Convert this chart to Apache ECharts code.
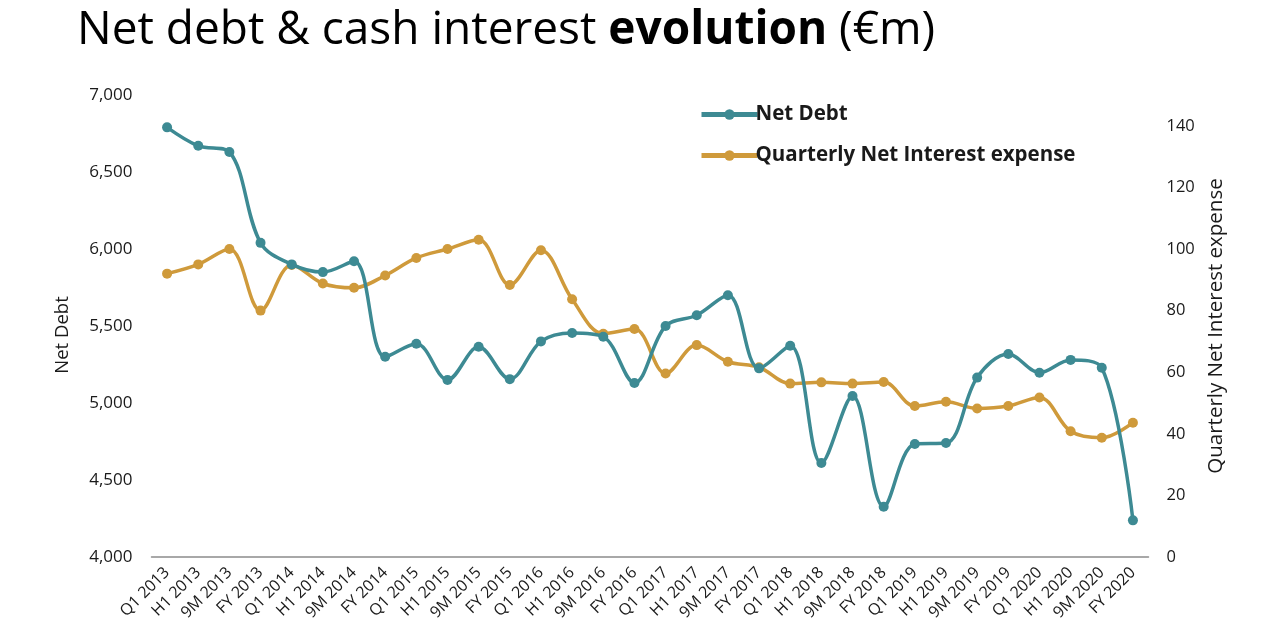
<!DOCTYPE html>
<html>
<head>
<meta charset="utf-8">
<script src="https://cdn.jsdelivr.net/npm/echarts@6/dist/echarts.min.js"></script>
<style>
  html, body { margin: 0; padding: 0; background: #ffffff; }
  #chart { width: 1264px; height: 618px; }
  #bar { position: absolute; left: 9px; top: 20px; width: 2px; height: 558px; background: #000; }
</style>
</head>
<body>
<div id="bar"></div>
<div id="chart"></div>
<script>
// Reporting periods
const periods = [
  'Q1 2013', 'H1 2013', '9M 2013', 'FY 2013',
  'Q1 2014', 'H1 2014', '9M 2014', 'FY 2014',
  'Q1 2015', 'H1 2015', '9M 2015', 'FY 2015',
  'Q1 2016', 'H1 2016', '9M 2016', 'FY 2016',
  'Q1 2017', 'H1 2017', '9M 2017', 'FY 2017',
  'Q1 2018', 'H1 2018', '9M 2018', 'FY 2018',
  'Q1 2019', 'H1 2019', '9M 2019', 'FY 2019',
  'Q1 2020', 'H1 2020', '9M 2020', 'FY 2020'
];

// Net debt (€m), left axis
const netDebt = [
  6790, 6670, 6630, 6040,
  5900, 5850, 5920, 5300,
  5385, 5150, 5365, 5155,
  5400, 5455, 5430, 5130,
  5500, 5570, 5700, 5225,
  5372, 4610, 5045, 4327,
  4734, 4740, 5165, 5318,
  5197, 5280, 5229, 4238
];

// Quarterly net interest expense (€m), right axis
const interestExpense = [
  92, 95, 100, 80,
  94.8, 88.8, 87.4, 91.4,
  97.1, 100, 103, 88.3,
  99.6, 83.7, 72.5, 74,
  59.6, 68.8, 63.4, 61.6,
  56.3, 56.7, 56.3, 56.8,
  49, 50.4, 48.2, 49,
  51.8, 40.8, 38.7, 43.6
];

const teal = '#3d8a93';
const gold = '#cf9a3b';
const font = 'Open Sans';

const chart = echarts.init(document.getElementById('chart'), null, { renderer: 'canvas' });

chart.setOption({
  backgroundColor: '#ffffff',
  animation: false,
  textStyle: { fontFamily: font },
  title: {
    left: 72,
    top: 3,
    text: '{n|Net debt & cash interest }{b|evolution}{n| (€m)}',
    textStyle: {
      rich: {
        n: { fontFamily: font, fontSize: 46, color: '#000', fontWeight: 'normal' },
        b: { fontFamily: font, fontSize: 46, color: '#000', fontWeight: 'bold' }
      }
    }
  },
  legend: {
    orient: 'vertical',
    left: 694,
    top: 99,
    itemWidth: 56,
    itemHeight: 13,
    itemGap: 20,
    lineStyle: { width: 5 },
    textStyle: { fontFamily: font, fontSize: 20.5, fontWeight: 'bold', color: '#1a1a1a', padding: [0, 0, 0, -7] },
    data: ['Net Debt', 'Quarterly Net Interest expense']
  },
  grid: {
    left: 151.5, right: 115.5, top: 95, bottom: 61,
    containLabel: false,
    outerBoundsMode: 'none'
  },
  xAxis: {
    type: 'category',
    data: periods,
    boundaryGap: true,
    axisLine: { show: true, lineStyle: { color: '#8c8c8c', width: 1.5 } },
    axisTick: { show: false },
    axisLabel: { rotate: 45, interval: 0, fontSize: 16, color: '#1a1a1a', margin: 13 }
  },
  yAxis: [
    {
      type: 'value',
      name: 'Net Debt',
      nameLocation: 'middle',
      nameGap: 79,
      nameRotate: 90,
      nameTextStyle: { fontSize: 18.5, color: '#1a1a1a', padding: [0, 18, 0, 0] },
      min: 4000,
      max: 7000,
      interval: 500,
      splitLine: { show: false },
      axisLine: { show: false },
      axisTick: { show: false },
      axisLabel: {
        fontSize: 17,
        color: '#1a1a1a',
        margin: 19,
        formatter: v => v.toLocaleString('en-US')
      }
    },
    {
      type: 'value',
      name: 'Quarterly Net Interest expense',
      nameLocation: 'middle',
      nameGap: 57,
      nameRotate: 90,
      nameTextStyle: { fontSize: 20.5, color: '#1a1a1a' },
      min: 0,
      max: 150,
      interval: 20,
      splitLine: { show: false },
      axisLine: { show: false },
      axisTick: { show: false },
      axisLabel: { fontSize: 16.5, color: '#1a1a1a', margin: 18, showMaxLabel: false }
    }
  ],
  series: [
    {
      name: 'Net Debt',
      type: 'line',
      yAxisIndex: 0,
      data: netDebt,
      smooth: 0.35,
      symbol: 'circle',
      symbolSize: 10,
      z: 3,
      lineStyle: { color: teal, width: 3.5 },
      itemStyle: { color: teal }
    },
    {
      name: 'Quarterly Net Interest expense',
      type: 'line',
      yAxisIndex: 1,
      data: interestExpense,
      smooth: 0.35,
      symbol: 'circle',
      symbolSize: 10,
      z: 2,
      lineStyle: { color: gold, width: 3.5 },
      itemStyle: { color: gold }
    }
  ]
});
</script>
</body>
</html>
